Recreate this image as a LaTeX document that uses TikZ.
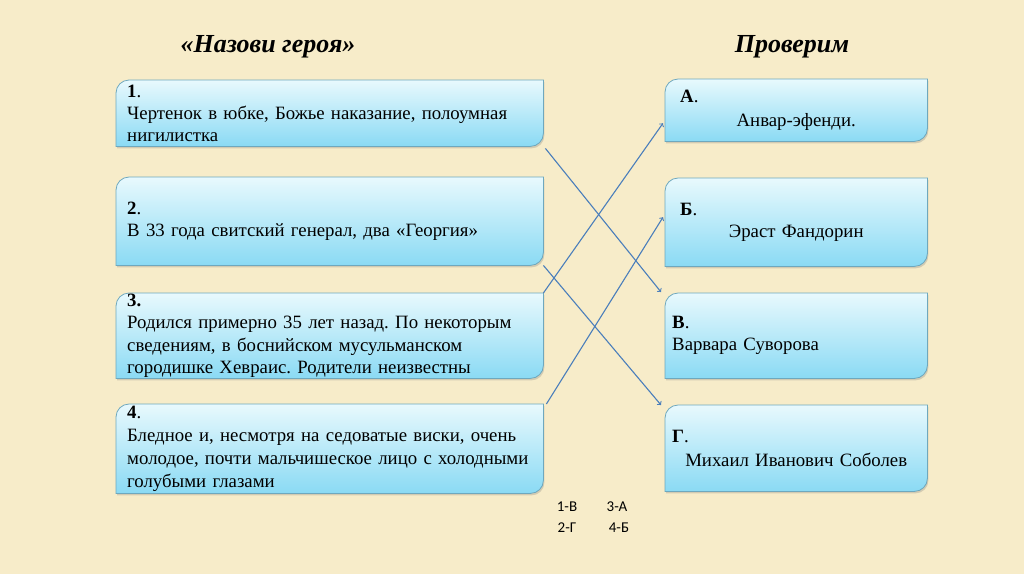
\documentclass[tikz,border=0pt]{standalone}
\usepackage{fontspec}
\setmainfont{Liberation Serif}
\newfontfamily\keyfont{Carlito}
\usetikzlibrary{backgrounds,shadows}
\frenchspacing

\definecolor{paper}{RGB}{247,236,201}
\definecolor{boxtop}{RGB}{232,249,253}
\definecolor{boxbottom}{RGB}{138,218,244}
\definecolor{boxline}{RGB}{110,168,190}
\definecolor{arrowblue}{RGB}{74,126,187}

% box with two rounded corners (top left, bottom right)
\newcommand\heroshape[1]{%
  \path[heroshape] ([yshift=-13pt]#1.north west) arc (180:90:13pt) -- (#1.north east)
    -- ([yshift=13pt]#1.south east) arc (0:-90:13pt) -- (#1.south west) -- cycle;}

\begin{document}
\begin{tikzpicture}[x=1pt, y=1pt,
    heroshape/.style={draw=boxline, line width=0.8pt, top color=boxtop, bottom color=boxbottom,
      drop shadow={opacity=0.3, shadow xshift=1pt, shadow yshift=-2pt}},
    herobox/.style={anchor=north west, inner xsep=11pt, inner ysep=0pt, text width=405pt,
      minimum height=#1, align=left, font=\fontsize{18.8}{22}\selectfont},
    answerbox/.style={herobox=#1, inner xsep=7pt, text width=248pt},
    title/.style={font=\fontsize{26}{30}\selectfont\bfseries\itshape},
    key/.style={font=\keyfont\fontsize{15}{18}\selectfont},
    link/.style={->, draw=arrowblue, line width=1.1pt}]
    \useasboundingbox (0,0) rectangle (1024,-574);
    \begin{scope}[on background layer]
        \fill[paper] (0,0) rectangle (1024,-574);
    \end{scope}

    % Titles
    \node[title] (tQ) at (268,-47) {«Назови героя»};
    \node[title] (tA) at (792,-47) {Проверим};

    % Questions
    \node[herobox=66pt, inner ysep=1pt] (q1) at (116,-80) {\textbf{1}.\\Чертенок в юбке, Божье наказание, полоумная\\нигилистка};
    \node[herobox=88pt] (q2) at (116,-177) {\textbf{2}.\\В 33 года свитский генерал, два «Георгия»};
    \node[herobox=85pt, font=\fontsize{18.8}{22.5}\selectfont] (q3) at (116,-293) {\textbf{3.}\\Родился примерно 35 лет назад. По некоторым\\сведениям, в боснийском мусульманском\\городишке Хевраис. Родители неизвестны};
    \node[herobox=89pt, font=\fontsize{18.8}{23}\selectfont] (q4) at (116,-404) {\textbf{4}.\\Бледное и, несмотря на седоватые виски, очень\\молодое, почти мальчишеское лицо с холодными\\голубыми глазами};

    % Answers
    \node[answerbox=62pt, font=\fontsize{18.8}{24}\selectfont] (aA) at (665,-79) {\hspace*{8pt}\textbf{А}.\par{\centering Анвар-эфенди.\par}};
    \node[answerbox=88pt] (aB) at (665,-178) {\hspace*{8pt}\textbf{Б}.\par{\centering Эраст Фандорин\par}};
    \node[answerbox=85pt] (aV) at (665,-293) {\textbf{В}.\\Варвара Суворова};
    \node[answerbox=86pt, font=\fontsize{18.8}{24}\selectfont] (aG) at (665,-405) {\textbf{Г}.\par{\centering Михаил Иванович Соболев\par}};

    \begin{scope}[on background layer]
        \foreach \n in {q1,q2,q3,q4,aA,aB,aV,aG} {
            \heroshape{\n}
        }
    \end{scope}

    % Connectors
    \draw[link] ([shift={(2,-2)}]q1.south east) -- ([shift={(-4,1)}]aV.north west);
    \draw[link] (q2.south east) -- ([shift={(-4,0)}]aG.north west);
    \draw[link] (q3.north east) -- ([shift={(-2,-13)}]aA.west);
    \draw[link] ([xshift=3pt]q4.north east) -- ([shift={(-2,5)}]aB.west);

    % Key
    \node[key] (k1) at (567,-507) {1-В};
    \node[key] (k3) at (617,-507) {3-А};
    \node[key] (k2) at (567,-528) {2-Г};
    \node[key] (k4) at (619,-528) {4-Б};
\end{tikzpicture}
\end{document}
